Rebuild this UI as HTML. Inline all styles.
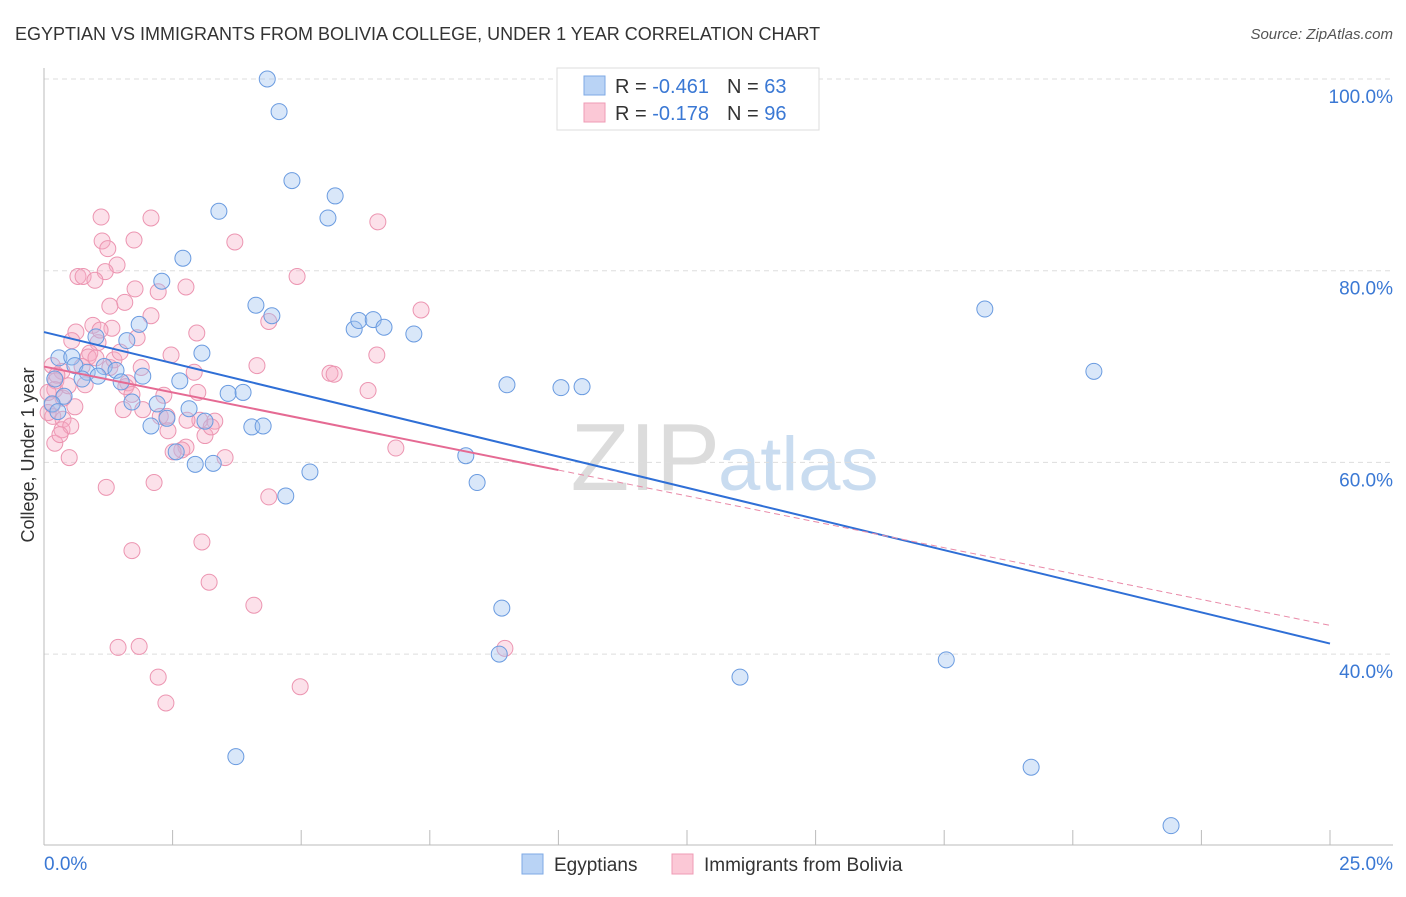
<!DOCTYPE html>
<html><head><meta charset="utf-8"><style>
body{margin:0;background:#fff;font-family:"Liberation Sans",sans-serif;}
svg text{font-family:"Liberation Sans",sans-serif;}
</style></head><body>
<svg id="chart" width="1406" height="892">
<text x="15" y="40" font-size="18" fill="#333">EGYPTIAN VS IMMIGRANTS FROM BOLIVIA COLLEGE, UNDER 1 YEAR CORRELATION CHART</text>
<text x="1393" y="39" font-size="15" fill="#555" font-style="italic" text-anchor="end">Source: ZipAtlas.com</text>
<text x="720" y="490" font-size="96" fill="#dcdcdc" text-anchor="end" font-family="Liberation Serif">ZIP</text>
<text x="718" y="490" font-size="76" fill="#c9dcf0">atlas</text>
<text x="34" y="455" font-size="18" fill="#333" text-anchor="middle" transform="rotate(-90 34 455)">College, Under 1 year</text>
<g id="grid"></g><g id="axes"></g><g id="pts"></g><g id="trend"></g>
<g>
<rect x="557" y="68" width="262" height="62" fill="#fff" stroke="#ddd"/>
<rect x="584" y="76" width="21" height="19" fill="#b9d3f5" stroke="#7eaae5"/>
<rect x="584" y="103" width="21" height="19" fill="#fbc8d6" stroke="#ef9bb5"/>
<text x="615" y="93" font-size="20" fill="#333">R = <tspan fill="#3a78d4">-0.461</tspan><tspan dx="18">N = </tspan><tspan fill="#3a78d4">63</tspan></text>
<text x="615" y="120" font-size="20" fill="#333">R = <tspan fill="#3a78d4">-0.178</tspan><tspan dx="18">N = </tspan><tspan fill="#3a78d4">96</tspan></text>
</g>
<g>
<rect x="522" y="854" width="21" height="20" fill="#b9d3f5" stroke="#7eaae5"/>
<text x="554" y="871" font-size="19" fill="#333">Egyptians</text>
<rect x="672" y="854" width="21" height="20" fill="#fbc8d6" stroke="#ef9bb5"/>
<text x="704" y="871" font-size="19" fill="#333">Immigrants from Bolivia</text>
</g>
</svg>
<script>
const yTicks=[100,80,60,40];
const yTickLabels=["100.0%","80.0%","60.0%","40.0%"];
const xTickLabels=["0.0%","25.0%"];
const blueX=[4.34,4.57,4.82,5.66,5.52,3.40,2.70,2.29,4.12,4.43,1.85,1.01,1.61,0.29,0.54,0.60,0.84,1.17,1.40,1.92,0.74,1.05,1.50,0.21,0.39,0.16,0.27,3.07,2.64,6.03,6.12,6.40,6.61,7.19,3.58,3.87,1.71,2.20,2.82,2.39,2.08,3.13,4.04,4.26,2.57,2.94,3.29,5.17,4.70,8.20,8.42,9.00,10.05,10.46,18.29,20.41,8.90,8.85,13.53,17.54,19.19,21.91,3.73];
const blueY=[100.0,96.6,89.4,87.8,85.5,86.2,81.3,78.9,76.4,75.3,74.4,73.1,72.7,70.9,71.0,70.1,69.4,70.0,69.6,69.0,68.7,69.0,68.4,68.7,66.9,66.1,65.3,71.4,68.5,73.9,74.8,74.9,74.1,73.4,67.2,67.3,66.3,66.1,65.6,64.6,63.8,64.3,63.7,63.8,61.1,59.8,59.9,59.0,56.5,60.7,57.9,68.1,67.8,67.9,76.0,69.5,44.8,40.0,37.6,39.4,28.2,22.1,29.3];
const pinkX=[1.11,2.08,6.49,1.13,1.75,3.71,1.24,1.42,1.19,0.66,0.76,0.99,4.92,2.76,1.77,2.22,1.57,1.28,2.08,4.37,7.33,0.62,0.95,1.32,1.81,2.97,1.05,0.54,0.89,0.86,2.47,6.47,4.14,1.89,1.28,0.35,0.74,2.92,5.56,5.64,0.23,0.80,1.63,1.59,1.71,0.21,6.30,2.99,0.37,0.16,0.60,1.54,0.17,0.37,0.08,2.26,2.39,3.32,3.03,0.35,0.52,2.41,3.13,2.76,2.68,6.84,3.52,0.49,2.51,0.21,1.21,2.14,4.37,3.07,1.71,3.21,4.08,1.44,1.85,8.96,2.22,4.98,2.37,0.16,0.25,0.47,0.08,1.01,1.36,1.09,1.48,2.78,2.33,1.92,3.25,0.31];
const pinkY=[85.6,85.5,85.1,83.1,83.2,83.0,82.3,80.6,79.9,79.4,79.4,79.0,79.4,78.3,78.1,77.8,76.7,76.3,75.3,74.7,75.9,73.6,74.3,74.0,73.0,73.5,72.5,72.7,71.4,71.0,71.2,71.2,70.1,69.9,69.9,69.5,70.0,69.4,69.3,69.2,68.5,68.1,68.3,67.9,67.1,67.6,67.5,67.3,66.7,66.0,65.8,65.5,64.8,64.5,65.2,64.8,64.8,64.3,64.4,63.4,63.8,63.3,62.8,61.6,61.3,61.5,60.5,60.5,61.1,62.0,57.4,57.9,56.4,51.7,50.8,47.5,45.1,40.7,40.8,40.6,37.6,36.6,34.9,70.1,69.1,68.0,67.3,70.9,70.7,73.8,71.5,64.4,67.0,65.5,63.7,62.9];
const blueTrend=[73.6,41.1];
const pinkTrend=[70.0,43.0];
const pinkSolidEnd=10.0;
const NS="http://www.w3.org/2000/svg";
const X0=44,X1=1330,Y100=79,PXPER=191.7/20;
const sx=v=>X0+v/25*(X1-X0);
const sy=v=>Y100+(100-v)*PXPER;
function mk(tag,attrs,parent){const e=document.createElementNS(NS,tag);for(const k in attrs)e.setAttribute(k,attrs[k]);parent.appendChild(e);return e;}
const grid=document.getElementById('grid'),axes=document.getElementById('axes');
yTicks.forEach((t,i)=>{
 const l=mk('line',{x1:X0,x2:1393,y1:sy(t),y2:sy(t),stroke:'#ddd','stroke-dasharray':'5,4'},grid);
 
 
 const tx=mk('text',{x:1393,y:sy(t)+24,'font-size':19,fill:'#3a78d4','text-anchor':'end'},axes);
 tx.textContent=yTickLabels[i];
 
 
});
const xa=mk('line',{x1:X0,x2:1393,y1:845,y2:845,stroke:'#bbb'},axes);


const ya=mk('line',{x1:X0,x2:X0,y1:68,y2:845,stroke:'#bbb'},axes);


for(let i=0;i<=10;i++){const v=i*2.5;
 const t=mk('line',{x1:sx(v),x2:sx(v),y1:830,y2:845,stroke:'#bbb'},axes);
 
 }
[[0,'start',X0],[25,'end',1393]].forEach((d,i)=>{
 const tx=mk('text',{x:d[2],y:870,'font-size':19,fill:'#3a78d4','text-anchor':d[1]},axes);
 tx.textContent=xTickLabels[i];
 
 });
const pts=document.getElementById('pts');
pinkX.forEach((x,i)=>{const c=mk('circle',{cx:sx(x),cy:sy(pinkY[i]),r:8,fill:'rgba(245,170,195,0.35)',stroke:'#ec95b1','stroke-width':1},pts);
 
 });
blueX.forEach((x,i)=>{const c=mk('circle',{cx:sx(x),cy:sy(blueY[i]),r:8,fill:'rgba(160,195,240,0.4)',stroke:'#6a9be0','stroke-width':1},pts);
 
 });
const tr=document.getElementById('trend');
const py=x=>pinkTrend[0]+(pinkTrend[1]-pinkTrend[0])*x/25;
const bl=mk('line',{x1:sx(0),y1:sy(blueTrend[0]),x2:sx(25),y2:sy(blueTrend[1]),stroke:'#2f6fd6','stroke-width':2},tr);


const pl=mk('line',{x1:sx(0),y1:sy(py(0)),x2:sx(pinkSolidEnd),y2:sy(py(pinkSolidEnd)),stroke:'#e56a93','stroke-width':2},tr);


const pd=mk('line',{x1:sx(pinkSolidEnd),y1:sy(py(pinkSolidEnd)),x2:sx(25),y2:sy(py(25)),stroke:'#e98aa8','stroke-width':1,'stroke-dasharray':'6,4'},tr);


</script>
</body></html>
